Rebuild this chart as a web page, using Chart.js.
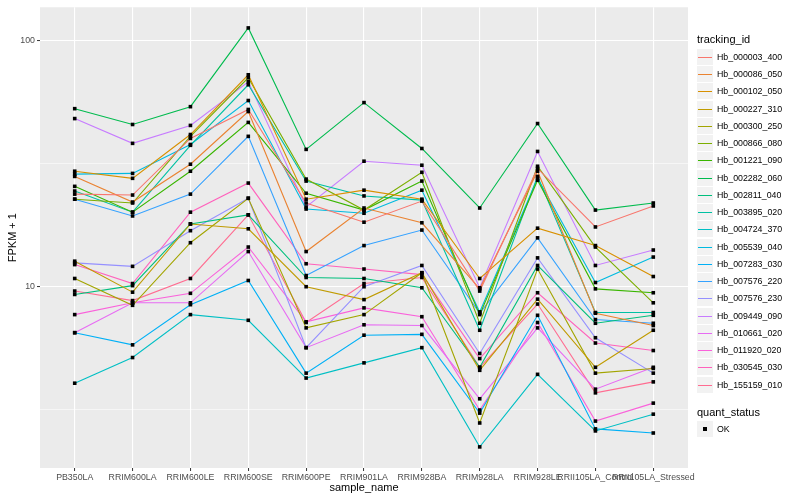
<!DOCTYPE html>
<html>
<head>
<meta charset="utf-8">
<script src="https://cdn.jsdelivr.net/npm/chart.js@4.4.1/dist/chart.umd.min.js"></script>
<style>
  html, body { margin: 0; padding: 0; background: #fff; }
  #wrap { position: relative; width: 800px; height: 500px; font-family: "Liberation Sans", Arial, sans-serif; }
  #chart { position: absolute; left: 0; top: 0; }
  .lg-title { position: absolute; left: 697px; font-size: 11px; line-height: 13px; color: #000; white-space: nowrap; }
  .lg-item { position: absolute; left: 697px; height: 17px; white-space: nowrap; }
  .lg-key { position: absolute; left: 0; top: 0; width: 16px; height: 16px; background: #f2f2f2; }
  .lg-line { position: absolute; left: 1px; right: 1px; top: 7.5px; height: 1.5px; }
  .lg-dot { position: absolute; left: 6px; top: 6px; width: 4px; height: 4px; background: #000; }
  .lg-text { position: absolute; left: 20px; top: 0; font-size: 8.8px; line-height: 17px; color: #000; }
</style>
</head>
<body>
<div id="wrap">
  <canvas id="chart" width="800" height="500"></canvas>
  <div id="legend"></div>
</div>
<script>
// Muestras (eje x)
const samples = ['PB350LA', 'RRIM600LA', 'RRIM600LE', 'RRIM600SE', 'RRIM600PE', 'RRIM901LA',
                 'RRIM928BA', 'RRIM928LA', 'RRIM928LE', 'RRII105LA_Control', 'RRII105LA_Stressed'];

const trackingIds = ['Hb_000003_400', 'Hb_000086_050', 'Hb_000102_050', 'Hb_000227_310', 'Hb_000300_250',
                     'Hb_000866_080', 'Hb_001221_090', 'Hb_002282_060', 'Hb_002811_040', 'Hb_003895_020',
                     'Hb_004724_370', 'Hb_005539_040', 'Hb_007283_030', 'Hb_007576_220', 'Hb_007576_230',
                     'Hb_009449_090', 'Hb_010661_020', 'Hb_011920_020', 'Hb_030545_030', 'Hb_155159_010'];

const colours = ['#F8766D', '#EA8331', '#D89000', '#C09B00', '#A3A500', '#7CAE00', '#39B600', '#00BB4E',
                 '#00BF7D', '#00C1A3', '#00BFC4', '#00BAE0', '#00B0F6', '#35A2FF', '#9590FF', '#C77CFF',
                 '#E76BF3', '#FA62DB', '#FF62BC', '#FF6C91'];

// FPKM + 1 por gen
const hb000003_400 = [23.8, 23.6, 40.1, 52.6, 21.9, 18.3, 22.3, 9.6, 30.3, 17.5, 21.3];
const hb000086_050 = [28.1, 22.1, 31.5, 51.6, 13.9, 20.9, 18.2, 9.8, 29.5, 7.8, 6.95];
const hb000102_050 = [29.5, 27.6, 41.6, 72.8, 22.7, 24.7, 22.7, 10.8, 17.3, 14.7, 11.0];
const hb000227_310 = [12.7, 9.5, 18.0, 17.2, 10.0, 8.86, 11.4, 4.57, 8.9, 4.7, 6.65];
const hb000300_250 = [10.8, 8.4, 15.1, 22.9, 6.8, 7.7, 11.4, 2.79, 11.8, 4.45, 4.65];
const hb000866_080 = [22.7, 21.9, 40.9, 70.8, 27.4, 20.5, 29.2, 7.1, 30.9, 14.5, 8.6];
const hb001221_090 = [25.6, 20.1, 29.5, 46.6, 24.0, 20.5, 26.9, 7.7, 27.1, 9.8, 9.45];
const hb002282_060 = [53.0, 45.7, 54.0, 112.9, 36.2, 56.1, 36.5, 20.9, 46.1, 20.5, 21.9];
const hb002811_040 = [9.3, 10.1, 18.0, 19.6, 10.9, 10.8, 9.9, 4.7, 12.2, 7.1, 7.65];
const hb003895_020 = [24.5, 20.1, 37.6, 66.3, 26.9, 23.4, 22.5, 6.65, 28.1, 7.85, 7.85];
const hb004724_370 = [4.05, 5.15, 7.7, 7.3, 4.25, 4.9, 5.65, 2.23, 4.4, 2.59, 3.03];
const hb005539_040 = [28.7, 28.9, 37.9, 57.2, 20.7, 19.9, 24.7, 7.9, 27.6, 10.4, 13.2];
const hb007283_030 = [6.5, 5.8, 8.45, 10.6, 4.45, 6.35, 6.4, 3.06, 7.65, 2.64, 2.54];
const hb007576_220 = [22.7, 19.4, 23.8, 40.9, 11.1, 14.7, 17.0, 7.8, 15.8, 7.35, 7.1];
const hb007576_230 = [12.5, 12.1, 16.9, 22.9, 5.65, 10.0, 12.2, 5.35, 13.1, 6.2, 4.45];
const hb009449_090 = [48.3, 38.3, 45.3, 68.2, 21.1, 32.4, 31.2, 9.9, 35.5, 12.2, 14.1];
const hb010661_020 = [6.5, 8.6, 8.6, 13.9, 5.65, 7.0, 6.95, 3.5, 6.8, 3.83, 4.7];
const hb011920_020 = [7.7, 8.6, 9.4, 14.5, 7.2, 8.2, 7.55, 3.15, 7.15, 2.84, 3.36];
const hb030545_030 = [12.3, 10.3, 20.1, 26.4, 12.4, 11.8, 11.2, 5.1, 9.45, 5.9, 5.5];
const hb155159_010 = [9.6, 8.78, 10.8, 19.6, 7.15, 10.3, 10.9, 4.7, 8.5, 3.7, 4.1];

const series = [hb000003_400, hb000086_050, hb000102_050, hb000227_310, hb000300_250,
                hb000866_080, hb001221_090, hb002282_060, hb002811_040, hb003895_020,
                hb004724_370, hb005539_040, hb007283_030, hb007576_220, hb007576_230,
                hb009449_090, hb010661_020, hb011920_020, hb030545_030, hb155159_010];

// Ejes
const yTicks = [10, 100];
const yMinor = [3.162, 31.62];
const yMin = 1.83, yMax = 137;

// Fondo gris del panel
const panelBg = {
  id: 'panelBg',
  beforeDraw(chart) {
    const {ctx, chartArea: a} = chart;
    ctx.save();
    ctx.fillStyle = '#ebebeb';
    ctx.fillRect(a.left, a.top, a.right - a.left, a.bottom - a.top);
    ctx.restore();
  }
};

// Puntos cuadrados negros encima de todas las lineas
const squarePoints = {
  id: 'squarePoints',
  afterDatasetsDraw(chart) {
    const ctx = chart.ctx;
    ctx.save();
    ctx.fillStyle = '#000';
    chart.data.datasets.forEach((ds, i) => {
      chart.getDatasetMeta(i).data.forEach(p => ctx.fillRect(p.x - 1.8, p.y - 1.8, 3.6, 3.6));
    });
    ctx.restore();
  }
};

const isMajor = c => c.tick && yTicks.includes(c.tick.value);

Chart.defaults.font.family = '"Liberation Sans", Arial, sans-serif';

new Chart(document.getElementById('chart'), {
  type: 'line',
  data: {
    datasets: series.map((vals, i) => ({
      label: trackingIds[i],
      data: vals.map((v, j) => ({x: j, y: v})),
      borderColor: colours[i],
      borderWidth: 1.1,
      pointRadius: 0,
      tension: 0
    }))
  },
  options: {
    responsive: false,
    animation: false,
    events: [],
    layout: { padding: { top: 5, right: 112, bottom: 0, left: 0 } },
    plugins: { legend: { display: false }, tooltip: { enabled: false } },
    scales: {
      x: {
        type: 'linear',
        min: -0.6,
        max: samples.length - 0.4,
        afterBuildTicks: s => { s.ticks = samples.map((_, i) => ({value: i})); },
        afterFit: s => { s.height = 32; },
        border: { display: false },
        grid: { color: '#ffffff', lineWidth: 1.1, tickColor: '#333333', tickLength: 3, tickWidth: 1 },
        ticks: {
          callback: v => samples[v] ?? '',
          autoSkip: false, maxRotation: 0, minRotation: 0,
          padding: 1.5, color: '#4d4d4d', font: { size: 8.8 }
        },
        title: { display: true, text: 'sample_name', color: '#000', font: { size: 11 }, padding: { top: 0, bottom: 5.4 } }
      },
      y: {
        type: 'logarithmic',
        min: yMin,
        max: yMax,
        afterBuildTicks: s => {
          s.ticks = [...yMinor, ...yTicks].sort((a, b) => a - b).map(v => ({value: v}));
        },
        afterFit: s => { s.width = 40; },
        border: { display: false },
        grid: {
          color: '#ffffff',
          lineWidth: c => isMajor(c) ? 1.1 : 0.55,
          tickColor: c => isMajor(c) ? '#333333' : 'rgba(0,0,0,0)',
          tickLength: 3,
          tickWidth: 1
        },
        ticks: {
          callback: v => yTicks.includes(v) ? String(v) : '',
          autoSkip: false, padding: 2, color: '#4d4d4d', font: { size: 8.8 }
        },
        title: { display: true, text: 'FPKM + 1', color: '#000', font: { size: 11 }, padding: { top: 6.4, bottom: 0 } }
      }
    }
  },
  plugins: [panelBg, squarePoints]
});

// Leyenda estilo ggplot
const legend = document.getElementById('legend');
function addTitle(text, centerY) {
  const d = document.createElement('div');
  d.className = 'lg-title';
  d.style.top = Math.round(centerY - 6.5) + 'px';
  d.textContent = text;
  legend.appendChild(d);
}
function addItem(text, centerY, colour) {
  const it = document.createElement('div');
  it.className = 'lg-item';
  it.style.top = Math.round(centerY - 8.5) + 'px';
  const key = document.createElement('div');
  key.className = 'lg-key';
  const mark = document.createElement('div');
  if (colour) { mark.className = 'lg-line'; mark.style.background = colour; }
  else mark.className = 'lg-dot';
  key.appendChild(mark);
  const t = document.createElement('div');
  t.className = 'lg-text';
  t.textContent = text;
  it.appendChild(key);
  it.appendChild(t);
  legend.appendChild(it);
}
addTitle('tracking_id', 39.5);
trackingIds.forEach((id, i) => addItem(id, 57.5 + i * 17.24, colours[i]));
addTitle('quant_status', 412);
addItem('OK', 429, null);
</script>
</body>
</html>
